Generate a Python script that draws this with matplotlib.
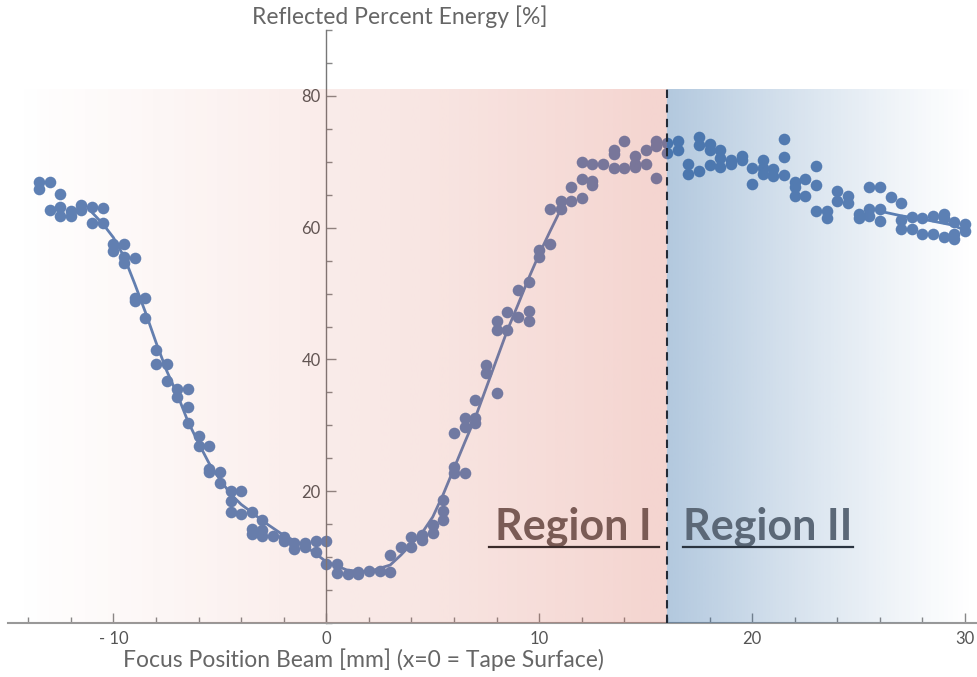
import numpy as np
import matplotlib.pyplot as plt
from matplotlib.ticker import MultipleLocator

plt.rcParams['font.family'] = ['Lato', 'DejaVu Sans']

# measured positions (mm) and the reflected energy readings taken at each one
positions = [-13.5, -13.0, -12.5, -12.0, -11.5, -11.0, -10.5, -10.0, -9.5, -9.0,
             -8.5, -8.0, -7.5, -7.0, -6.5, -6.0, -5.5, -5.0, -4.5, -4.0,
             -3.5, -3.0, -2.5, -2.0, -1.5, -1.0, -0.5, 0.0, 0.5, 1.0,
             1.5, 2.0, 2.5, 3.0, 3.5, 4.0, 4.5, 5.0, 5.5, 6.0,
             6.5, 7.0, 7.5, 8.0, 8.5, 9.0, 9.5, 10.0, 10.5, 11.0,
             11.5, 12.0, 12.5, 13.0, 13.5, 14.0, 14.5, 15.0, 15.5, 16.0,
             16.5, 17.0, 17.5, 18.0, 18.5, 19.0, 19.5, 20.0, 20.5, 21.0,
             21.5, 22.0, 22.5, 23.0, 23.5, 24.0, 24.5, 25.0, 25.5, 26.0,
             26.5, 27.0, 27.5, 28.0, 28.5, 29.0, 29.5, 30.0]
readings = [[67.0, 65.9], [66.9, 62.7], [65.1, 63.1, 61.7], [62.6, 61.7], [63.5, 62.7],
            [63.1, 60.7], [63.0, 60.7], [57.5, 56.5], [57.5, 55.5, 54.6], [55.4, 49.4, 48.9],
            [49.4, 46.3], [41.4, 39.3], [39.3, 36.7], [35.5, 34.3], [35.5, 32.8, 30.4],
            [28.4, 26.8], [26.8, 23.4, 22.9], [22.9, 21.3], [20.0, 18.5, 16.9], [20.0, 16.5],
            [16.9, 14.3, 13.5], [15.6, 14.1, 13.2], [13.2], [13.1, 12.5], [12.1, 11.2],
            [12.2, 11.6], [12.5, 10.8], [12.5, 9.0], [9.0, 7.6], [7.4],
            [7.8, 7.4], [7.9], [7.9], [10.3, 7.8], [11.5],
            [13.0, 11.5], [13.3, 12.6], [14.8, 13.6], [18.7, 17.0, 15.6], [28.8, 23.7, 22.7],
            [31.1, 29.7, 22.7], [33.8, 31.1, 30.4], [39.1, 38.0], [45.9, 44.5, 34.9], [47.2, 44.5],
            [50.6, 46.4], [51.8, 47.4, 45.8], [56.6, 55.5], [62.8, 57.5], [64.1, 62.8],
            [66.1, 64.1], [70.0, 67.4, 64.5], [69.7, 67.1, 66.4], [69.7], [71.8, 71.2, 69.0],
            [73.2, 69.0], [70.9, 69.7, 69.2], [71.8, 69.7], [73.2, 72.4, 67.6], [72.9, 71.4],
            [73.2, 71.8], [69.7, 68.2], [73.7, 72.6, 68.6], [72.7, 71.8, 69.5], [71.8, 70.6, 69.2],
            [70.3, 69.7], [70.9, 70.3], [69.0, 66.7], [70.3, 69.0, 68.1], [68.9, 67.9],
            [73.4, 70.8, 68.0], [66.9, 66.1, 64.8], [67.4, 64.8], [69.3, 66.5, 62.6], [62.6, 61.4],
            [65.6, 64.1], [64.8, 63.8], [62.1, 61.4], [66.1, 62.8, 61.7], [66.1, 62.8, 61.0],
            [64.6], [63.8, 61.2, 59.8], [61.6, 59.8], [61.4, 59.1], [61.8, 59.1],
            [62.1, 61.5, 58.6], [60.8, 59.1, 58.3], [60.6, 59.5]]

# smooth curve drawn through the data (two visible pieces)
fit_x = [-11.0, -10.5, -10.0, -9.5, -9.0, -8.5, -8.0, -7.5, -7.0, -6.5, -6.0, -5.5,
         -5.0, -4.5, -4.0, -3.5, -3.0, -2.0, -1.0, 0.0, 1.0, 2.0, 3.0, 3.5,
         4.0, 4.5, 5.0, 5.5, 6.0, 6.5, 7.0, 7.5, 8.0, 8.5, 9.0, 9.5, 10.0, 10.5, 11.0]
fit_y = [62.3, 60.6, 58.5, 55.6, 51.5, 47.2, 42.6, 38.3, 34.7, 30.6, 27.3, 24.2,
         21.8, 19.6, 18.0, 16.8, 15.5, 13.3, 11.7, 9.3, 8.0, 7.8, 8.8, 10.3,
         12.0, 13.7, 16.1, 19.6, 23.5, 27.4, 31.2, 35.6, 40.0, 44.4, 48.3, 52.3, 56.0, 59.4, 62.7]
tail_x = [26.0, 27.0, 28.0, 29.4, 30.0]
tail_y = [62.5, 61.8, 61.3, 60.4, 59.6]

boundary = 16
x_ticks = [-10, 0, 10, 20, 30]
x_tick_labels = ['- 10', '0', '10', '20', '30']
y_ticks = [20, 40, 60, 80]

px = np.repeat(positions, [len(r) for r in readings])
py = np.concatenate([np.array(r) for r in readings])

fig = plt.figure(figsize=(9.77, 6.77), dpi=100)
ax = fig.add_axes([8 / 977, 54 / 677, 969 / 977, 593 / 677])
xmin, xmax = -14.95, 30.56
ax.set_xlim(xmin, xmax)
ax.set_ylim(0, 90)

blue = '#5e81b5'
ax.scatter(px, py, s=70, color=blue, linewidths=0, zorder=2)
ax.plot(fit_x, fit_y, color=blue, lw=2.0, zorder=2)
ax.plot(tail_x, tail_y, color=blue, lw=2.0, zorder=2)

# shaded regions, drawn over the data as a translucent gradient
gx = np.linspace(xmin, xmax, 800)
grad = np.zeros((1, gx.size, 4))
left = gx < boundary
t = (gx[left] - xmin) / (boundary - xmin)
grad[0, left, :3] = np.array([211, 83, 63]) / 255
grad[0, left, 3] = 0.25 * t ** 1.1
t2 = (gx[~left] - boundary) / (xmax - boundary)
grad[0, ~left, :3] = np.array([35, 98, 161]) / 255
grad[0, ~left, 3] = 0.35 * (1 - t2) ** 1.2
ax.imshow(grad, extent=(xmin, xmax, 0, 81), aspect='auto', zorder=3,
          interpolation='bilinear')

ax.plot([boundary, boundary], [0, 81], color='#222a35', lw=1.5, ls=(0, (4, 3)), zorder=4)

ax.text(11.6, 14.6, 'Region I', fontsize=31, fontweight='bold', color='#7a5b55',
        ha='center', va='center', zorder=5)
ax.plot([7.66, 15.63], [11.5, 11.5], color='#3b2b2a', lw=1.6, zorder=5)
ax.text(20.75, 14.6, 'Region II', fontsize=31, fontweight='bold', color='#5b6877',
        ha='center', va='center', zorder=5)
ax.plot([16.76, 24.73], [11.5, 11.5], color='#2a3440', lw=1.6, zorder=5)

for s in ['top', 'right']:
    ax.spines[s].set_visible(False)
ax.spines['left'].set_position(('data', 0))
ax.spines['left'].set_color('#777777')
ax.spines['bottom'].set_color('#999999')
ax.spines['left'].set_linewidth(1.0)
ax.spines['bottom'].set_linewidth(1.5)

ax.set_xticks(x_ticks)
ax.set_xticklabels(x_tick_labels)
ax.set_yticks(y_ticks)
ax.xaxis.set_minor_locator(MultipleLocator(2))
ax.yaxis.set_minor_locator(MultipleLocator(5))
ax.tick_params(which='both', direction='in', color='#888888', labelcolor='#555555',
               labelsize=12)
ax.tick_params(which='major', length=7, width=1)
ax.tick_params(which='minor', length=4, width=1)
ax.tick_params(axis='x', pad=6)
ax.tick_params(axis='y', pad=4)
ax.set_facecolor('white')

fig.text(363 / 977, 1 - 660 / 677, 'Focus Position Beam [mm] (x=0 = Tape Surface)',
         fontsize=16.5, color='#666666', ha='center', va='center')
fig.text(400 / 977, 1 - 17 / 677, 'Reflected Percent Energy [%]',
         fontsize=16.5, color='#666666', ha='center', va='center')

fig.savefig('out.png', dpi=100)
